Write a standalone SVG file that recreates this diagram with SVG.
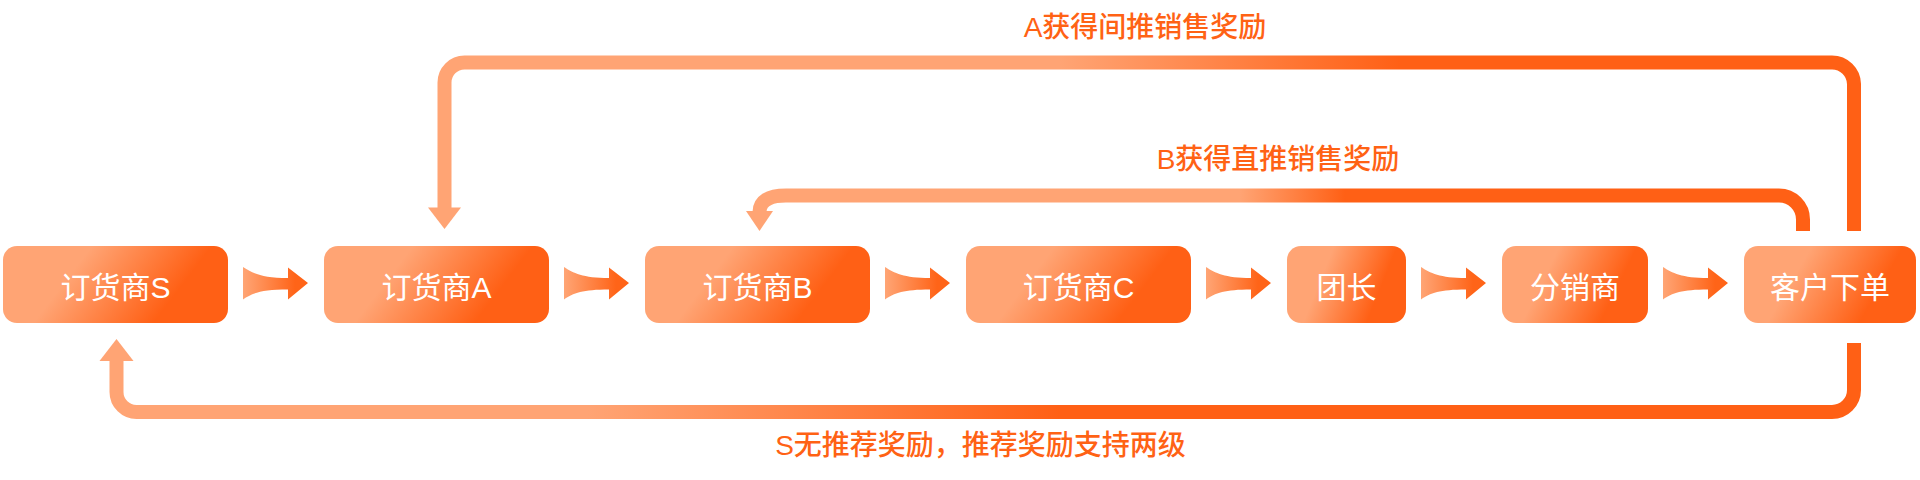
<svg xmlns="http://www.w3.org/2000/svg" width="1920" height="480" viewBox="0 0 1920 480">
<style>
.node rect{fill:url(#gNode)}
.node text{font-family:"Liberation Sans","Noto Sans CJK SC",sans-serif;font-size:30px;fill:#ffffff;text-anchor:middle}
.flow{fill:url(#gFlow)}
.conn{fill:none;stroke-width:14}
.label{font-family:"Liberation Sans","Noto Sans CJK SC",sans-serif;font-size:28px;font-weight:500;fill:#FF6214;text-anchor:middle}
</style>
<defs>
<linearGradient id="gNode" x1="0" y1="0.37" x2="1" y2="0.63">
<stop offset="0.28" stop-color="#FFA474"/>
<stop offset="0.78" stop-color="#FF6015"/>
</linearGradient>
<linearGradient id="gFlow" x1="0" y1="0" x2="1" y2="0">
<stop offset="0" stop-color="#FFA575"/>
<stop offset="0.8" stop-color="#FF6418"/>
</linearGradient>
<linearGradient id="gA" gradientUnits="userSpaceOnUse" x1="1060" y1="0" x2="1400" y2="0">
<stop offset="0" stop-color="#FFA474"/>
<stop offset="1" stop-color="#FF6015"/>
</linearGradient>
<linearGradient id="gB" gradientUnits="userSpaceOnUse" x1="1240" y1="0" x2="1345" y2="0">
<stop offset="0" stop-color="#FFA474"/>
<stop offset="1" stop-color="#FF6015"/>
</linearGradient>
<linearGradient id="gS" gradientUnits="userSpaceOnUse" x1="588" y1="0" x2="1060" y2="0">
<stop offset="0" stop-color="#FFA474"/>
<stop offset="1" stop-color="#FF6015"/>
</linearGradient>
<path id="flowShape" d="M0,0 C9,6 19,11 45,11 V0.5 L65,16 L45,32.5 V22.5 C19,22.5 9,26 0,32.5 Z"/>
</defs>

<g id="connectors">
<use href="#flowShape" class="flow" transform="translate(243,267)"/>
<use href="#flowShape" class="flow" transform="translate(564,267)"/>
<use href="#flowShape" class="flow" transform="translate(885,267)"/>
<use href="#flowShape" class="flow" transform="translate(1206,267)"/>
<use href="#flowShape" class="flow" transform="translate(1421,267)"/>
<use href="#flowShape" class="flow" transform="translate(1663,267)"/>

<path class="conn" stroke="url(#gA)" d="M1854,231 V84 A22,22 0 0 0 1832,62.5 H464.5 A20,20 0 0 0 444.5,82.5 V209"/>
<polygon points="428,207.5 461,207.5 444.5,229" fill="#FFA474"/>

<path class="conn" stroke="url(#gB)" d="M1803,231 V219.5 A24,24 0 0 0 1779,195.5 H786 Q759.5,195.5 759.5,212"/>
<polygon points="746,211 773,211 759.5,231" fill="#FFA474"/>

<path class="conn" stroke="url(#gS)" d="M1854,343 V390 A22,22 0 0 1 1832,412 H137 A20,20 0 0 1 116.5,392 V359"/>
<polygon points="99.5,361 133.5,361 116.5,339" fill="#FFA474"/>

<text class="label" x="1145" y="37">A获得间推销售奖励</text>
<text class="label" x="1278" y="168.5">B获得直推销售奖励</text>
<text class="label" x="980.5" y="455">S无推荐奖励，推荐奖励支持两级</text>
</g>

<g id="node-s" class="node"><rect x="3" y="246" width="225" height="77" rx="14"/><text x="115.5" y="298">订货商S</text></g>
<g id="node-a" class="node"><rect x="324" y="246" width="225" height="77" rx="14"/><text x="436.5" y="298">订货商A</text></g>
<g id="node-b" class="node"><rect x="645" y="246" width="225" height="77" rx="14"/><text x="757.5" y="298">订货商B</text></g>
<g id="node-c" class="node"><rect x="966" y="246" width="225" height="77" rx="14"/><text x="1078.5" y="298">订货商C</text></g>
<g id="node-leader" class="node"><rect x="1287" y="246" width="119" height="77" rx="14"/><text x="1346.5" y="298">团长</text></g>
<g id="node-dist" class="node"><rect x="1502" y="246" width="146" height="77" rx="14"/><text x="1575" y="298">分销商</text></g>
<g id="node-order" class="node"><rect x="1744" y="246" width="172" height="77" rx="14"/><text x="1830" y="298">客户下单</text></g>
</svg>
